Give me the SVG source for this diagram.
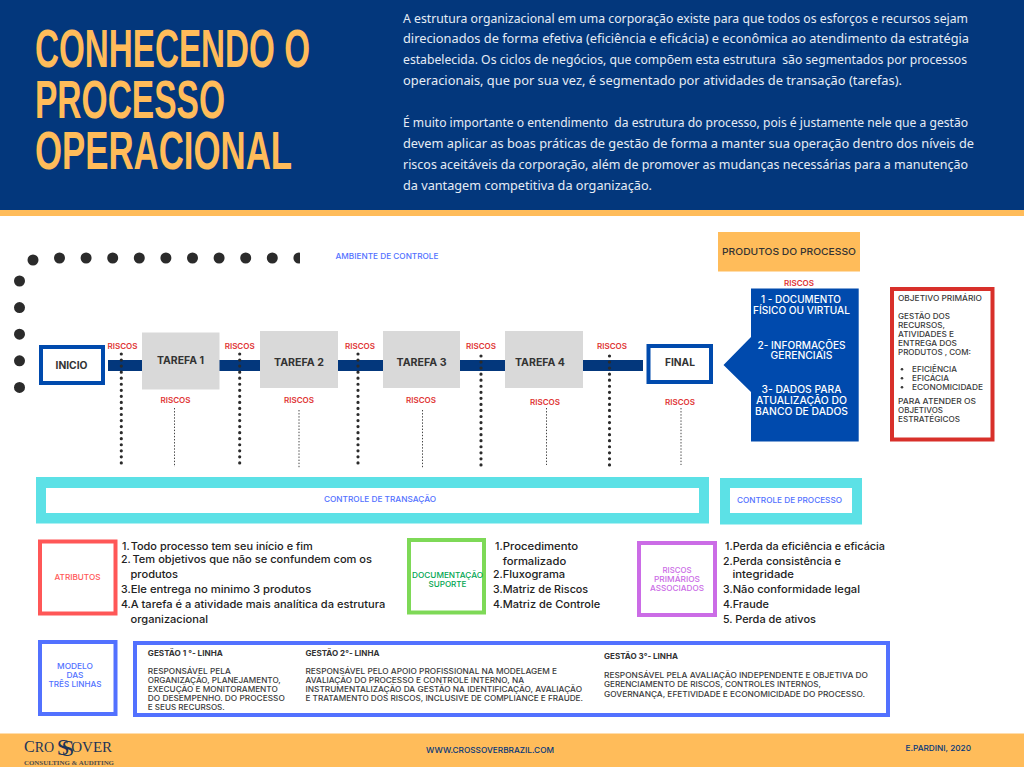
<svg xmlns="http://www.w3.org/2000/svg" width="1024" height="768" viewBox="0 0 1024 768">
<style>
text{font-family:"Inter","Noto Sans","Liberation Sans",sans-serif;white-space:pre;fill:#333;}
.t{font-family:"Liberation Sans",sans-serif;font-weight:700;font-size:54px;fill:#ffbc5a;}
.p{font-family:"Noto Sans","Open Sans",sans-serif;font-size:12.4px;fill:#e6ecf5;}
.r{font-size:7.6px;font-weight:600;fill:#e03434;text-anchor:middle;}
.n{font-size:10px;font-weight:700;text-anchor:middle;}
.l{font-size:8px;font-weight:500;fill:#5271ff;text-anchor:middle;}
.pw{font-size:10px;font-weight:500;fill:#fff;text-anchor:middle;}
.o{font-size:7.6px;font-weight:500;fill:#3a3a3a;}
.li{font-size:10.6px;font-weight:500;fill:#222;}
.g{font-size:7.6px;font-weight:500;fill:#3a3a3a;}
.gh{font-size:7.6px;font-weight:700;fill:#333;}
.box{fill:#fff;stroke-width:4;}
.task{fill:#d9d9d9;}
.bar{fill:#03377c;}
.big{fill:none;stroke:#2b2b2b;stroke-width:11;stroke-linecap:round;stroke-dasharray:0 26.6;}
.heavy{fill:none;stroke:#2b2b2b;stroke-width:3.2;stroke-linecap:round;stroke-dasharray:0 6.05;}
.thin{fill:none;stroke:#444;stroke-width:1;stroke-dasharray:1.4 1.7;}
.logo{font-family:"Liberation Serif",serif;fill:#1d3557;}
</style>

<rect width="1024" height="768" fill="#fff"/>

<g id="header">
<rect width="1024" height="210" fill="#03377c"/>
<rect y="210" width="1024" height="6" fill="#ffbc5a"/>
<text class="t" x="35" y="67" textLength="275" lengthAdjust="spacingAndGlyphs">CONHECENDO O</text>
<text class="t" x="35" y="118" textLength="190" lengthAdjust="spacingAndGlyphs">PROCESSO</text>
<text class="t" x="35" y="169" textLength="257" lengthAdjust="spacingAndGlyphs">OPERACIONAL</text>
<text class="p" x="403" y="22.5" textLength="565" lengthAdjust="spacingAndGlyphs">A estrutura organizacional em uma corporação existe para que todos os esforços e recursos sejam</text>
<text class="p" x="403" y="43" textLength="566" lengthAdjust="spacingAndGlyphs">direcionados de forma efetiva (eficiência e eficácia) e econômica ao atendimento da estratégia</text>
<text class="p" x="403" y="64" textLength="564" lengthAdjust="spacingAndGlyphs">estabelecida. Os ciclos de negócios, que compõem esta estrutura  são segmentados por processos</text>
<text class="p" x="403" y="85" textLength="499" lengthAdjust="spacingAndGlyphs">operacionais, que por sua vez, é segmentado por atividades de transação (tarefas).</text>
<text class="p" x="403" y="127" textLength="565" lengthAdjust="spacingAndGlyphs">É muito importante o entendimento  da estrutura do processo, pois é justamente nele que a gestão</text>
<text class="p" x="403" y="148" textLength="571" lengthAdjust="spacingAndGlyphs">devem aplicar as boas práticas de gestão de forma a manter sua operação dentro dos níveis de</text>
<text class="p" x="403" y="169" textLength="565" lengthAdjust="spacingAndGlyphs">riscos aceitáveis da corporação, além de promover as mudanças necessárias para a manutenção</text>
<text class="p" x="403" y="190" textLength="249" lengthAdjust="spacingAndGlyphs">da vantagem competitiva da organização.</text>
</g>

<g id="connectors">
<path class="big" d="M33 260L33 260"/>
<path class="big" d="M59.5 258H300"/>
<path class="big" d="M19.5 281V390"/>
<rect x="300" y="250" width="6" height="16" fill="#fff"/>
<rect class="bar" x="108" y="360" width="34" height="11"/>
<rect class="bar" x="219" y="360" width="41" height="11"/>
<rect class="bar" x="338" y="360" width="45" height="11"/>
<rect class="bar" x="460" y="360" width="45" height="11"/>
<rect class="bar" x="583" y="360" width="60" height="11"/>
<path class="heavy" d="M121.3 354V465"/>
<path class="heavy" d="M239.7 354V465"/>
<path class="heavy" d="M358 354V465"/>
<path class="heavy" d="M481 356V467"/>
<path class="heavy" d="M609.5 356V467"/>
<path class="thin" d="M174.5 408V467"/>
<path class="thin" d="M299 410V468"/>
<path class="thin" d="M422.5 410V468"/>
<path class="thin" d="M546.5 408V465"/>
<path class="thin" d="M681 408V465"/>
</g>

<g id="inicio"><rect class="box" x="41" y="347" width="62" height="36" stroke="#004aad"/><text class="n" x="71.5" y="369" textLength="32" lengthAdjust="spacingAndGlyphs">INICIO</text></g>
<g id="tarefa1"><rect class="task" x="142" y="332.5" width="77.5" height="57"/><text class="n" x="180.5" y="363.5" textLength="47" lengthAdjust="spacingAndGlyphs">TAREFA 1</text></g>
<g id="tarefa2"><rect class="task" x="260" y="331" width="78" height="57"/><text class="n" x="299" y="365.5" textLength="50" lengthAdjust="spacingAndGlyphs">TAREFA 2</text></g>
<g id="tarefa3"><rect class="task" x="383" y="331" width="77" height="57"/><text class="n" x="421.5" y="365.5" textLength="50" lengthAdjust="spacingAndGlyphs">TAREFA 3</text></g>
<g id="tarefa4"><rect class="task" x="505" y="331" width="78" height="57"/><text class="n" x="540" y="365.5" textLength="50" lengthAdjust="spacingAndGlyphs">TAREFA 4</text></g>
<g id="final"><rect class="box" x="648.5" y="346" width="62.5" height="36" stroke="#004aad"/><text class="n" x="680" y="365.5" textLength="30" lengthAdjust="spacingAndGlyphs">FINAL</text></g>

<g id="riscos">
<text class="r" x="122.5" y="348.5" textLength="30" lengthAdjust="spacingAndGlyphs">RISCOS</text>
<text class="r" x="239.7" y="348.5" textLength="30" lengthAdjust="spacingAndGlyphs">RISCOS</text>
<text class="r" x="360" y="348.5" textLength="30" lengthAdjust="spacingAndGlyphs">RISCOS</text>
<text class="r" x="481" y="348.5" textLength="30" lengthAdjust="spacingAndGlyphs">RISCOS</text>
<text class="r" x="612" y="348.5" textLength="30" lengthAdjust="spacingAndGlyphs">RISCOS</text>
<text class="r" x="175.5" y="402.5" textLength="30" lengthAdjust="spacingAndGlyphs">RISCOS</text>
<text class="r" x="299" y="402.5" textLength="30" lengthAdjust="spacingAndGlyphs">RISCOS</text>
<text class="r" x="421" y="402.5" textLength="30" lengthAdjust="spacingAndGlyphs">RISCOS</text>
<text class="r" x="545" y="404.5" textLength="30" lengthAdjust="spacingAndGlyphs">RISCOS</text>
<text class="r" x="680" y="404.5" textLength="30" lengthAdjust="spacingAndGlyphs">RISCOS</text>
<text class="r" x="799" y="285.5" textLength="30" lengthAdjust="spacingAndGlyphs">RISCOS</text>
</g>

<g id="ambiente"><text class="l" x="387" y="259" textLength="103" lengthAdjust="spacingAndGlyphs">AMBIENTE DE CONTROLE</text></g>

<g id="produtos-titulo"><rect x="718" y="232" width="142" height="39.5" fill="#ffbc5a"/><text x="789" y="254.5" font-size="9.4" font-weight="500" text-anchor="middle" textLength="134" lengthAdjust="spacingAndGlyphs">PRODUTOS DO PROCESSO</text></g>

<g id="produtos">
<path d="M751 288.5H858.7V441.5H751V392L723.5 365L751 337Z" fill="#004aad"/>
<text class="pw" x="801" y="303" textLength="80" lengthAdjust="spacingAndGlyphs">1 - DOCUMENTO</text>
<text class="pw" x="801.5" y="314" textLength="97" lengthAdjust="spacingAndGlyphs">FÍSICO OU VIRTUAL</text>
<text class="pw" x="801.5" y="348.5" textLength="88" lengthAdjust="spacingAndGlyphs">2- INFORMAÇÕES</text>
<text class="pw" x="801.5" y="359" textLength="62" lengthAdjust="spacingAndGlyphs">GERENCIAIS</text>
<text class="pw" x="801.5" y="393" textLength="80" lengthAdjust="spacingAndGlyphs">3- DADOS PARA</text>
<text class="pw" x="801.5" y="404" textLength="91" lengthAdjust="spacingAndGlyphs">ATUALIZAÇÃO DO</text>
<text class="pw" x="801.5" y="415" textLength="93" lengthAdjust="spacingAndGlyphs">BANCO DE DADOS</text>
</g>

<g id="objetivo">
<rect class="box" x="892" y="289" width="100.5" height="150.5" stroke="#d8302a"/>
<text class="o" x="898" y="300.5" textLength="84" lengthAdjust="spacingAndGlyphs">OBJETIVO PRIMÁRIO</text>
<text class="o" x="898" y="319" textLength="52" lengthAdjust="spacingAndGlyphs">GESTÃO DOS</text>
<text class="o" x="898" y="328" textLength="47" lengthAdjust="spacingAndGlyphs">RECURSOS,</text>
<text class="o" x="898" y="337" textLength="56" lengthAdjust="spacingAndGlyphs">ATIVIDADES E</text>
<text class="o" x="898" y="346" textLength="59" lengthAdjust="spacingAndGlyphs">ENTREGA DOS</text>
<text class="o" x="898" y="355" textLength="73" lengthAdjust="spacingAndGlyphs">PRODUTOS , COM:</text>
<circle cx="902" cy="369.3" r="1.3" fill="#3a3a3a"/><circle cx="902" cy="378.3" r="1.3" fill="#3a3a3a"/><circle cx="902" cy="387.3" r="1.3" fill="#3a3a3a"/>
<text class="o" x="912" y="372" textLength="45" lengthAdjust="spacingAndGlyphs">EFICIÊNCIA</text>
<text class="o" x="912" y="381" textLength="37" lengthAdjust="spacingAndGlyphs">EFICÁCIA</text>
<text class="o" x="912" y="390" textLength="71" lengthAdjust="spacingAndGlyphs">ECONOMICIDADE</text>
<text class="o" x="898" y="404" textLength="78" lengthAdjust="spacingAndGlyphs">PARA ATENDER OS</text>
<text class="o" x="898" y="413" textLength="45" lengthAdjust="spacingAndGlyphs">OBJETIVOS</text>
<text class="o" x="898" y="422" textLength="62" lengthAdjust="spacingAndGlyphs">ESTRATÉGICOS</text>
</g>

<g id="controle-transacao"><rect x="36" y="477" width="673" height="46.5" fill="#5ce1e6"/><rect x="46" y="488" width="653" height="25" fill="#fff"/><text class="l" x="380" y="502" textLength="112" lengthAdjust="spacingAndGlyphs">CONTROLE DE TRANSAÇÃO</text></g>
<g id="controle-processo"><rect x="720" y="478" width="142" height="46.5" fill="#5ce1e6"/><rect x="730" y="488" width="122" height="25" fill="#fff"/><text class="l" x="789.5" y="503" textLength="105" lengthAdjust="spacingAndGlyphs">CONTROLE DE PROCESSO</text></g>

<g id="atributos">
<rect class="box" x="40" y="541.5" width="75.5" height="72" stroke="#ff5757"/>
<text class="l" style="fill:#ff5757" x="77.5" y="580" textLength="46" lengthAdjust="spacingAndGlyphs">ATRIBUTOS</text>
</g>
<g id="atributos-lista">
<text class="li" x="122" y="549.5">1.</text><text class="li" x="130.7" y="549.5" textLength="182" lengthAdjust="spacingAndGlyphs">Todo processo tem seu início e fim</text>
<text class="li" x="121" y="563">2.</text><text class="li" x="132.5" y="563" textLength="239.5" lengthAdjust="spacingAndGlyphs">Tem objetivos que não se confundem com os</text>
<text class="li" x="130.5" y="578" textLength="47.5" lengthAdjust="spacingAndGlyphs">produtos</text>
<text class="li" x="121" y="593">3.</text><text class="li" x="130.7" y="593" textLength="180.5" lengthAdjust="spacingAndGlyphs">Ele entrega no minimo 3 produtos</text>
<text class="li" x="121" y="608">4.</text><text class="li" x="130.7" y="608" textLength="254.5" lengthAdjust="spacingAndGlyphs">A tarefa é a atividade mais analítica da estrutura</text>
<text class="li" x="130.5" y="623" textLength="77.5" lengthAdjust="spacingAndGlyphs">organizacional</text>
</g>

<g id="documentacao">
<rect class="box" x="409" y="540" width="75" height="72.5" stroke="#7ed957"/>
<text class="l" style="fill:#00a651" x="447.5" y="577.5" textLength="71" lengthAdjust="spacingAndGlyphs">DOCUMENTAÇÃO</text>
<text class="l" style="fill:#00a651" x="447.5" y="586.5" textLength="38" lengthAdjust="spacingAndGlyphs">SUPORTE</text>
</g>
<g id="documentacao-lista">
<text class="li" x="495" y="549.5">1.</text><text class="li" x="502.7" y="549.5" textLength="75.5" lengthAdjust="spacingAndGlyphs">Procedimento</text>
<text class="li" x="502.7" y="564.5" textLength="63.5" lengthAdjust="spacingAndGlyphs">formalizado</text>
<text class="li" x="493" y="578">2.</text><text class="li" x="502.7" y="578" textLength="62.5" lengthAdjust="spacingAndGlyphs">Fluxograma</text>
<text class="li" x="493" y="593">3.</text><text class="li" x="502.7" y="593" textLength="85.5" lengthAdjust="spacingAndGlyphs">Matriz de Riscos</text>
<text class="li" x="493" y="608">4.</text><text class="li" x="502.7" y="608" textLength="97.5" lengthAdjust="spacingAndGlyphs">Matriz de Controle</text>
</g>

<g id="riscos-primarios">
<rect class="box" x="639" y="543" width="76" height="72" stroke="#cb6ce6"/>
<text class="l" style="fill:#cb6ce6" x="677" y="573" textLength="29" lengthAdjust="spacingAndGlyphs">RISCOS</text>
<text class="l" style="fill:#cb6ce6" x="677" y="582" textLength="46" lengthAdjust="spacingAndGlyphs">PRIMÁRIOS</text>
<text class="l" style="fill:#cb6ce6" x="677" y="591" textLength="54" lengthAdjust="spacingAndGlyphs">ASSOCIADOS</text>
</g>
<g id="riscos-primarios-lista">
<text class="li" x="725" y="549.5">1.</text><text class="li" x="732.7" y="549.5" textLength="152.3" lengthAdjust="spacingAndGlyphs">Perda da eficiência e eficácia</text>
<text class="li" x="723" y="564.5">2.</text><text class="li" x="732.7" y="564.5" textLength="108.3" lengthAdjust="spacingAndGlyphs">Perda consistência e</text>
<text class="li" x="732.4" y="578" textLength="61.6" lengthAdjust="spacingAndGlyphs">integridade</text>
<text class="li" x="723" y="593">3.</text><text class="li" x="732.7" y="593" textLength="127.3" lengthAdjust="spacingAndGlyphs">Não conformidade legal</text>
<text class="li" x="723" y="608">4.</text><text class="li" x="732.7" y="608" textLength="36.3" lengthAdjust="spacingAndGlyphs">Fraude</text>
<text class="li" x="723" y="623">5.</text><text class="li" x="735.2" y="623" textLength="80.8" lengthAdjust="spacingAndGlyphs">Perda de ativos</text>
</g>

<g id="modelo">
<rect class="box" x="40" y="642" width="75.5" height="72" stroke="#5271ff"/>
<text class="l" x="75" y="669" textLength="36" lengthAdjust="spacingAndGlyphs">MODELO</text>
<text class="l" x="75" y="678" textLength="17" lengthAdjust="spacingAndGlyphs">DAS</text>
<text class="l" x="75" y="687" textLength="53" lengthAdjust="spacingAndGlyphs">TRÊS LINHAS</text>
</g>

<g id="gestao">
<rect class="box" x="135" y="643" width="753" height="72" stroke="#5271ff"/>
<text class="gh" x="147.8" y="655.5" textLength="75" lengthAdjust="spacingAndGlyphs">GESTÃO 1 °- LINHA</text>
<text class="g" x="147.8" y="673.5" textLength="83" lengthAdjust="spacingAndGlyphs">RESPONSÁVEL PELA</text>
<text class="g" x="147.8" y="682.5" textLength="133" lengthAdjust="spacingAndGlyphs">ORGANIZAÇÃO, PLANEJAMENTO,</text>
<text class="g" x="147.8" y="691.5" textLength="130" lengthAdjust="spacingAndGlyphs">EXECUÇÃO E MONITORAMENTO</text>
<text class="g" x="147.8" y="700.5" textLength="137" lengthAdjust="spacingAndGlyphs">DO DESEMPENHO. DO PROCESSO</text>
<text class="g" x="147.8" y="709.5" textLength="77" lengthAdjust="spacingAndGlyphs">E SEUS RECURSOS.</text>
<text class="gh" x="305.5" y="655.5" textLength="74" lengthAdjust="spacingAndGlyphs">GESTÃO 2°- LINHA</text>
<text class="g" x="305.5" y="673.5" textLength="251.5" lengthAdjust="spacingAndGlyphs">RESPONSÁVEL PELO APOIO PROFISSIONAL NA MODELAGEM E</text>
<text class="g" x="305.5" y="682.5" textLength="218.5" lengthAdjust="spacingAndGlyphs">AVALIAÇÃO DO PROCESSO E CONTROLE INTERNO, NA</text>
<text class="g" x="305.5" y="691.5" textLength="276.5" lengthAdjust="spacingAndGlyphs">INSTRUMENTALIZAÇÃO DA GESTÃO NA IDENTIFICAÇÃO, AVALIAÇÃO</text>
<text class="g" x="305.5" y="700.5" textLength="277.5" lengthAdjust="spacingAndGlyphs">E TRATAMENTO DOS RISCOS, INCLUSIVE DE COMPLIANCE E FRAUDE.</text>
<text class="gh" x="604" y="658.5" textLength="74" lengthAdjust="spacingAndGlyphs">GESTÃO 3°- LINHA</text>
<text class="g" x="604" y="677.5" textLength="264" lengthAdjust="spacingAndGlyphs">RESPONSÁVEL PELA AVALIAÇÃO INDEPENDENTE E OBJETIVA DO</text>
<text class="g" x="604" y="687" textLength="217" lengthAdjust="spacingAndGlyphs">GERENCIAMENTO DE RISCOS, CONTROLES INTERNOS,</text>
<text class="g" x="604" y="696.5" textLength="261" lengthAdjust="spacingAndGlyphs">GOVERNANÇA, EFETIVIDADE E ECONOMICIDADE DO PROCESSO.</text>
</g>

<g id="rodape">
<rect y="733.5" width="1024" height="33.5" fill="#ffbc5a"/>
<text class="logo" x="24" y="752" font-size="15"><tspan font-size="16">C</tspan><tspan font-size="14">RO</tspan><tspan font-size="23" dx="2.5" y="755">S</tspan><tspan font-size="23" dx="-8" y="756">S</tspan><tspan dx="-3" y="752">OVER</tspan></text>
<text x="24" y="765" font-size="7" font-weight="700" style="font-family:'Liberation Serif',serif;fill:#4a4a4a" textLength="90" lengthAdjust="spacingAndGlyphs">CONSULTING &amp; AUDITING</text>
<text x="426" y="753" font-size="8" font-weight="500" style="fill:#03377c" textLength="128" lengthAdjust="spacingAndGlyphs">WWW.CROSSOVERBRAZIL.COM</text>
<text x="905.5" y="750.5" font-size="8" font-weight="500" style="fill:#03377c" textLength="65.5" lengthAdjust="spacingAndGlyphs">E.PARDINI, 2020</text>
</g>
</svg>
